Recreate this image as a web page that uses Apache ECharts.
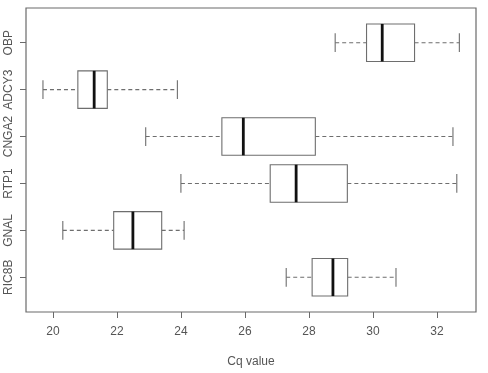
<!DOCTYPE html>
<html>
<head>
<meta charset="utf-8">
<script src="https://cdn.jsdelivr.net/npm/echarts@6/dist/echarts.min.js"></script>
<style>html,body{margin:0;padding:0;background:#fff;}#c{width:488px;height:373px;}</style>
</head>
<body>
<div id="c"></div>
<script>
// Categories from bottom to top
var categories = ['RIC8B', 'GNAL', 'RTP1', 'CNGA2', 'ADCY3', 'OBP'];
// Five-number summaries: [lower whisker, Q1, median, Q3, upper whisker]
var lowWhisker = [27.29, 20.31, 24.0, 22.9, 19.69, 28.82];
var q1Values   = [28.1, 21.9, 26.79, 25.28, 20.78, 29.8];
var medians    = [28.75, 22.5, 27.6, 25.95, 21.29, 30.29];
var q3Values   = [29.21, 23.4, 29.2, 28.2, 21.7, 31.3];
var highWhisker= [30.72, 24.1, 32.62, 32.5, 23.89, 32.7];
var xTicks = [20, 22, 24, 26, 28, 30, 32];
var yTickPos = [1, 2, 3, 4, 5, 6];
var xTitle = 'Cq value';

var data = categories.map(function (c, i) {
  return [i + 1, lowWhisker[i], q1Values[i], medians[i], q3Values[i], highWhisker[i]];
});

var boxColor = '#6e6e6e';
var font = 'Liberation Sans, Arial, sans-serif';

function renderItem(params, api) {
  var y = api.value(0);
  var lo = api.value(1), q1 = api.value(2), med = api.value(3), q3 = api.value(4), hi = api.value(5);
  var pLo = api.coord([lo, y]);
  var pQ1 = api.coord([q1, y]);
  var pMed = api.coord([med, y]);
  var pQ3 = api.coord([q3, y]);
  var pHi = api.coord([hi, y]);
  var half = api.size([0, 0.4])[1];
  var staple = api.size([0, 0.2])[1];
  var cy = pLo[1];
  var dash = { stroke: boxColor, lineWidth: 1.1, lineDash: [4, 3] };
  var solid = { stroke: boxColor, lineWidth: 1.1 };
  return {
    type: 'group',
    children: [
      { type: 'line', shape: { x1: pLo[0], y1: cy, x2: pQ1[0], y2: cy }, style: dash },
      { type: 'line', shape: { x1: pQ3[0], y1: cy, x2: pHi[0], y2: cy }, style: dash },
      { type: 'line', shape: { x1: pLo[0], y1: cy - staple, x2: pLo[0], y2: cy + staple }, style: solid },
      { type: 'line', shape: { x1: pHi[0], y1: cy - staple, x2: pHi[0], y2: cy + staple }, style: solid },
      { type: 'rect', shape: { x: pQ1[0], y: cy - half, width: pQ3[0] - pQ1[0], height: 2 * half }, style: { fill: '#fff', stroke: boxColor, lineWidth: 1.1 } },
      { type: 'line', shape: { x1: pMed[0], y1: cy - half, x2: pMed[0], y2: cy + half }, style: { stroke: '#111', lineWidth: 2.8 } }
    ]
  };
}

var chart = echarts.init(document.getElementById('c'));
chart.setOption({
  animation: false,
  backgroundColor: '#fff',
  grid: { left: 26, right: 12, top: 8, bottom: 59, show: true, borderColor: '#6a6a6a', borderWidth: 1.2, backgroundColor: 'transparent' },
  xAxis: {
    type: 'value', min: 19.16, max: 33.22,
    name: xTitle, nameLocation: 'middle', nameGap: 44,
    nameTextStyle: { fontFamily: font, fontSize: 12, color: '#555' },
    axisLine: { show: false },
    splitLine: { show: false },
    axisTick: { show: true, length: 6, customValues: xTicks, lineStyle: { color: '#6a6a6a' } },
    axisLabel: { customValues: xTicks, margin: 14, fontFamily: font, fontSize: 12, color: '#555' }
  },
  yAxis: {
    type: 'value', min: 0.26, max: 6.74,
    axisLine: { show: false },
    splitLine: { show: false },
    axisTick: { show: true, length: 6, customValues: yTickPos, lineStyle: { color: '#6a6a6a' } },
    axisLabel: {
      customValues: yTickPos, rotate: 90, margin: 11,
      fontFamily: font, fontSize: 12, color: '#555',
      formatter: function (v) { return categories[Math.round(v) - 1] || ''; }
    }
  },
  series: [{
    type: 'custom',
    renderItem: renderItem,
    encode: { x: [1, 2, 3, 4, 5], y: 0 },
    data: data
  }]
});
</script>
</body>
</html>
